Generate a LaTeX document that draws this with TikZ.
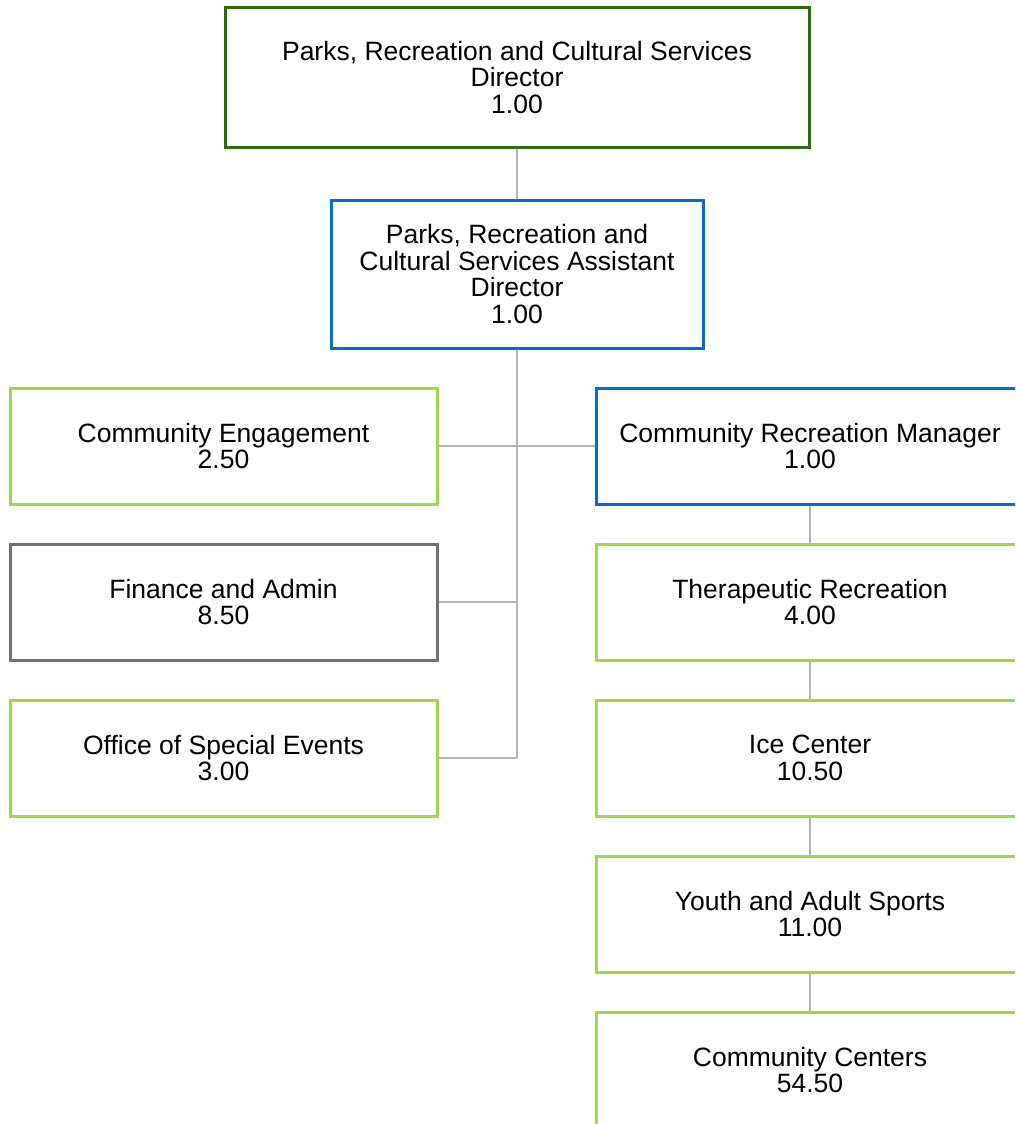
\documentclass[tikz,border=0pt]{standalone}
\usepackage{fontspec}
\setmainfont{Liberation Sans}
\usepackage{tikz}

\definecolor{darkgreen}{RGB}{46,107,14}
\definecolor{boxblue}{RGB}{6,106,206}
\definecolor{lightgreen}{RGB}{156,216,76}
\definecolor{boxgray}{RGB}{112,112,112}
\definecolor{linkgray}{RGB}{180,180,180}

\tikzset{
	unit/.style={shape=rectangle, draw=#1, line width=3pt, fill=white, align=center,
		inner sep=0pt, minimum width=427pt, minimum height=116pt,
		font=\fontsize{26.5}{26.5}\selectfont},
	link/.style={-, line width=2pt, linkgray}
}

\begin{document}
\begin{tikzpicture}[x=1pt,y=-1pt]
			\clip (0,0) rectangle (1015,1124);
			\fill[white] (0,0) rectangle (1015,1124);
			
			% top of the chart
			\node[unit=darkgreen, minimum width=584pt, minimum height=139pt] (dir) at (517,77.5) {Parks, Recreation and Cultural Services\\Director\\1.00};
			\node[unit=boxblue, minimum width=372pt, minimum height=148pt] (asst) at (517,274) {Parks, Recreation and\\Cultural Services Assistant\\Director\\1.00};
			
			% left column
			\node[unit=lightgreen] (eng) at (223.5,446) {Community Engagement\\2.50};
			\node[unit=boxgray] (fin) at (223.5,602) {Finance and Admin\\8.50};
			\node[unit=lightgreen] (ose) at (223.5,758) {Office of Special Events\\3.00};
			
			% right column
			\node[unit=boxblue] (crm) at (810,446) {Community Recreation Manager\\1.00};
			\node[unit=lightgreen] (ther) at (810,602) {Therapeutic Recreation\\4.00};
			\node[unit=lightgreen] (ice) at (810,758) {Ice Center\\10.50};
			\node[unit=lightgreen] (sport) at (810,914) {Youth and Adult Sports\\11.00};
			\node[unit=lightgreen] (cc) at (810,1070) {Community Centers\\54.50};
			
			\coordinate (trunk) at (517,758);
			
			\path [link] (dir) edge (asst);
			\draw [link] (asst) -- (trunk);
			\draw [link] (eng.east) -- (crm.west);
			\draw [link] (fin.east) -- (fin.east -| trunk);
			\draw [link] (ose.east) -- (trunk);
			
			\path [link] (crm) edge (ther);
			\path [link] (ther) edge (ice);
			\path [link] (ice) edge (sport);
			\path [link] (sport) edge (cc);
			\end{tikzpicture}
\end{document}
